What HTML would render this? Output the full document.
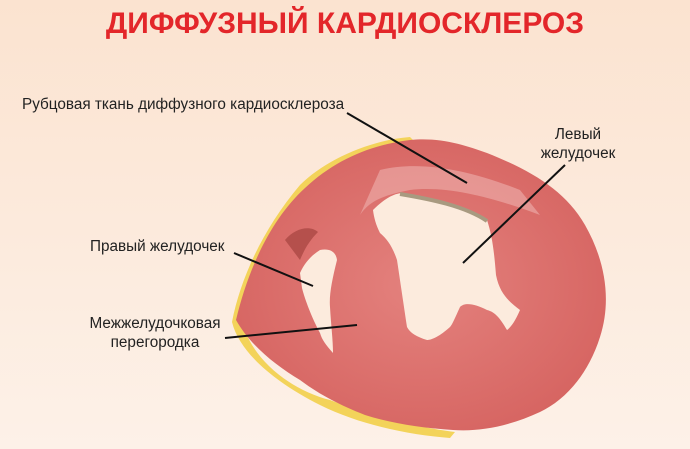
<!DOCTYPE html>
<html><head><meta charset="utf-8"><style>
body{margin:0;width:690px;height:449px;overflow:hidden;background:linear-gradient(#fbe3d0,#fdf1e8);font-family:"Liberation Sans",sans-serif}
svg{position:absolute;left:0;top:0}
</style></head><body>
<svg width="690" height="449" viewBox="0 0 690 449">
<defs>
<radialGradient id="m" cx="0.5" cy="0.5" r="0.6"><stop offset="0" stop-color="#e4827e"/><stop offset="1" stop-color="#d5625f"/></radialGradient>
</defs>
<text x="345" y="33" text-anchor="middle" font-family="Liberation Sans" font-weight="bold" font-size="30" fill="#e3262a">ДИФФУЗНЫЙ КАРДИОСКЛЕРОЗ</text>
<path d="M232,322 C240,280 262,230 300,185 C325,160 370,140 410,137 L420,147 C370,150 330,170 305,195 C275,230 252,280 245,330 C255,360 290,390 330,400 C370,415 420,428 455,432 L450,438 C410,435 360,425 320,405 C280,385 240,355 232,322Z" fill="#f3d35a"/>
<path d="M236,320 C248,270 270,220 305,188 C335,160 370,145 410,140 C440,137 465,145 487,153 C530,170 565,190 585,225 C605,260 612,300 600,337 C588,375 565,400 540,412 C510,426 480,432 453,430 C420,428 390,423 365,415 C340,405 320,395 300,380 C275,365 250,345 236,320Z" fill="url(#m)"/>
<path d="M380,170 C420,160 470,170 520,190 L540,215 C500,200 450,185 410,190 C385,195 370,200 360,215Z" fill="#efb1ad" opacity="0.6"/>
<path d="M373,210 C385,198 395,193 403,193 C430,198 465,205 487,220 C492,235 494,250 496,275 C500,295 510,302 520,310 C515,322 510,328 507,330 C500,318 495,312 487,310 C475,304 465,302 460,307 C455,318 452,325 450,327 C440,336 432,340 427,340 C417,337 410,333 407,327 C403,300 400,280 397,260 C392,245 386,238 380,233 C376,225 374,218 373,210Z" fill="#fcebdd"/>
<path d="M400,194 C430,199 465,206 487,221" stroke="#a89a80" stroke-width="4" fill="none"/>
<path d="M300,273 C305,262 312,255 320,250 C330,248 336,252 337,260 C332,280 329,295 330,307 C331,325 333,340 333,353 C326,345 322,340 320,333 C312,318 305,300 302,288Z" fill="#fcebdd"/>
<path d="M285,240 C295,228 310,225 318,232 C310,240 305,248 300,260Z" fill="#b5504c"/>
<g stroke="#111" stroke-width="2">
<line x1="347" y1="113" x2="467" y2="183"/>
<line x1="565" y1="165" x2="463" y2="263"/>
<line x1="234" y1="253" x2="313" y2="286"/>
<line x1="225" y1="338" x2="357" y2="325"/>
</g>
<g font-family="Liberation Sans" font-size="15.3" fill="#222">
<text x="22" y="109">Рубцовая ткань диффузного кардиосклероза</text>
<text x="578" y="139" text-anchor="middle">Левый</text>
<text x="578" y="158" text-anchor="middle">желудочек</text>
<text x="90" y="251">Правый желудочек</text>
<text x="155" y="328" text-anchor="middle">Межжелудочковая</text>
<text x="155" y="347" text-anchor="middle">перегородка</text>
</g>
</svg>
</body></html>
